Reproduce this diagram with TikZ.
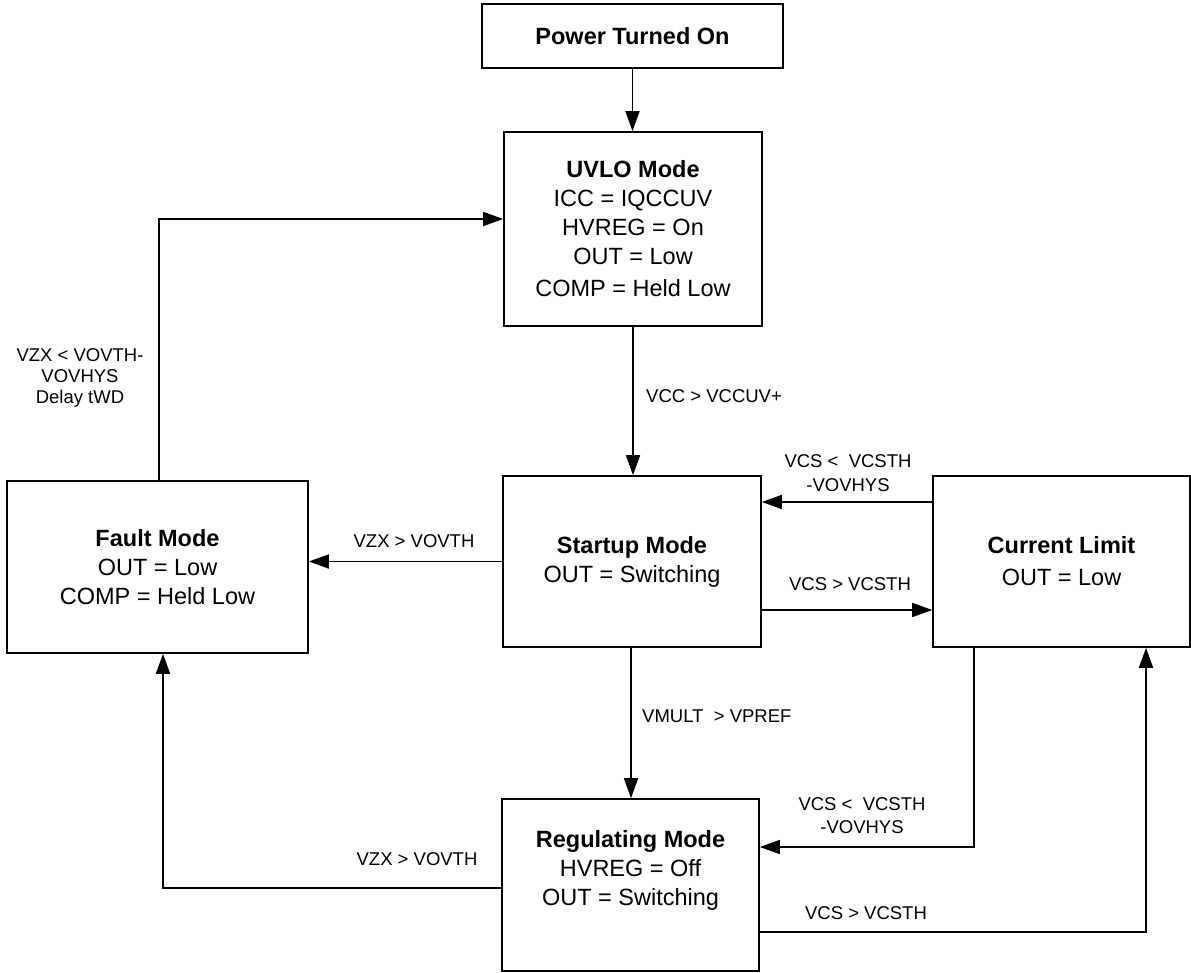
\documentclass[tikz,border=0pt]{standalone}
\usepackage{fontspec}
\setmainfont{Liberation Sans}
\usetikzlibrary{arrows.meta}
\tikzset{
  statebox/.style={draw=black, line width=1.6pt, inner sep=0pt, align=center,
    font=\fontsize{23.5}{29}\selectfont},
  boxtext/.style={align=center, inner sep=0pt, font=\fontsize{23.5}{29}\selectfont},
  lbl/.style={align=center, inner sep=0pt, font=\fontsize{18.5}{23.5}\selectfont},
  conn/.style={line width=1.6pt, -{Triangle[length=20pt,width=14pt]}},
}
\begin{document}
\begin{tikzpicture}[x=1pt,y=-1pt]
\useasboundingbox (0,0) rectangle (1191,972);

% boxes
\node[statebox, minimum width=301pt, minimum height=64pt] (power) at (632.5,36) {\textbf{Power Turned On}};
\node[statebox, minimum width=258pt, minimum height=194pt] (uvlo) at (633,229)
  {\textbf{UVLO Mode}\\ICC = IQCCUV\\HVREG = On\\OUT = Low\\[3pt]COMP = Held Low};
\node[statebox, minimum width=258pt, minimum height=171pt] (startup) at (632,561.5)
  {\textbf{Startup Mode}\\OUT = Switching};
\node[statebox, minimum width=301pt, minimum height=172pt] (fault) at (157.5,567)
  {\textbf{Fault Mode}\\OUT = Low\\COMP = Held Low};
\node[statebox, minimum width=257pt, minimum height=171pt] (cl) at (1061.5,561.5)
  {\textbf{Current Limit}\\[3pt]OUT = Low};
\node[statebox, minimum width=257pt, minimum height=172pt] (reg) at (630.5,885) {};
\node[boxtext] (regtext) at ([yshift=14.5pt]reg.center)
  {\textbf{Regulating Mode}\\HVREG = Off\\OUT = Switching};

% connectors
\draw[conn] (power.south) -- (power.south |- uvlo.north);
\draw[conn] (uvlo.south) -- (uvlo.south |- startup.north);
\draw[conn] ([xshift=1.5pt]fault.north) |- ([yshift=10pt]uvlo.west);
\draw[conn] (startup.west) -- (startup.west -| fault.east);
\draw[conn] ([yshift=59.5pt]cl.west) -- ([yshift=59.5pt]cl.west -| startup.east);
\draw[conn] ([yshift=-48.5pt]startup.east) -- ([yshift=-48.5pt]startup.east -| cl.west);
\draw[conn] ([xshift=-1pt]startup.south) -- ([xshift=-1pt]startup.south |- reg.north);
\draw[conn] ([xshift=-87.5pt]cl.south) |- ([yshift=38pt]reg.east);
\draw[conn] ([yshift=-47pt]reg.east) -| ([xshift=84.5pt]cl.south);
\draw[conn] ([yshift=-3pt]reg.west) -| ([xshift=5.5pt]fault.south);

% labels
\node[lbl, font=\fontsize{18.5}{21}\selectfont] (l1) at (80,378) {VZX < VOVTH-\\VOVHYS\\Delay tWD};
\node[lbl, anchor=west] (l2) at (646,396) {VCC > VCCUV+};
\node[lbl] (l3) at (414,541) {VZX > VOVTH};
\node[lbl] (l4) at (848,473) {VCS <\ \ VCSTH\\-VOVHYS};
\node[lbl] (l5) at (850,584) {VCS > VCSTH};
\node[lbl, anchor=west] (l6) at (642,716) {VMULT\ \ > VPREF};
\node[lbl] (l7) at (862,815.5) {VCS <\ \ VCSTH\\-VOVHYS};
\node[lbl] (l8) at (417,859) {VZX > VOVTH};
\node[lbl] (l9) at (866,913) {VCS > VCSTH};
\end{tikzpicture}
\end{document}
